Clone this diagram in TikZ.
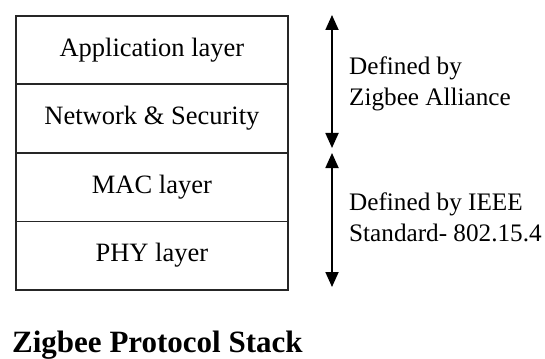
\documentclass[tikz,border=0pt]{standalone}
\usepackage{fontspec}
\setmainfont{Liberation Serif}
\usetikzlibrary{arrows.meta}
\begin{document}
\begin{tikzpicture}[x=1pt,y=-1pt,
  layerbox/.style={draw=black!85,line width=1.8pt,minimum width=272pt,minimum height=68.5pt,inner sep=0pt,font=\fontsize{26.5}{31}\selectfont,anchor=north west},
  span/.style={line width=1.8pt,{Triangle[width=13pt,length=15pt]}-{Triangle[width=13pt,length=15pt]}},
  note/.style={align=left,anchor=north west,inner sep=0pt,font=\fontsize{25.2}{31}\selectfont}]
\useasboundingbox (0,0) rectangle (545,358);
\node[layerbox] (app) at (15,15) {Application layer};
\node[layerbox] (net) at (15,83.5) {Network \& Security};
\node[layerbox] (mac) at (15,152) {MAC layer};
\node[layerbox] (phy) at (15,220.5) {PHY layer};
\coordinate (a1) at (332,15);
\coordinate (a2) at (332,148);
\coordinate (b1) at (332,153);
\coordinate (b2) at (332,287);
\draw[span] (a1) -- (a2);
\draw[span] (b1) -- (b2);
\node[note] (zig) at (349,57) {Defined by\\Zigbee Alliance};
\node[note] (ieee) at (349,193) {Defined by IEEE\\Standard- 802.15.4};
\node[anchor=base west,inner sep=0pt,font=\fontsize{31}{36}\selectfont\bfseries] (title) at (12,352) {Zigbee Protocol Stack};
\end{tikzpicture}
\end{document}
